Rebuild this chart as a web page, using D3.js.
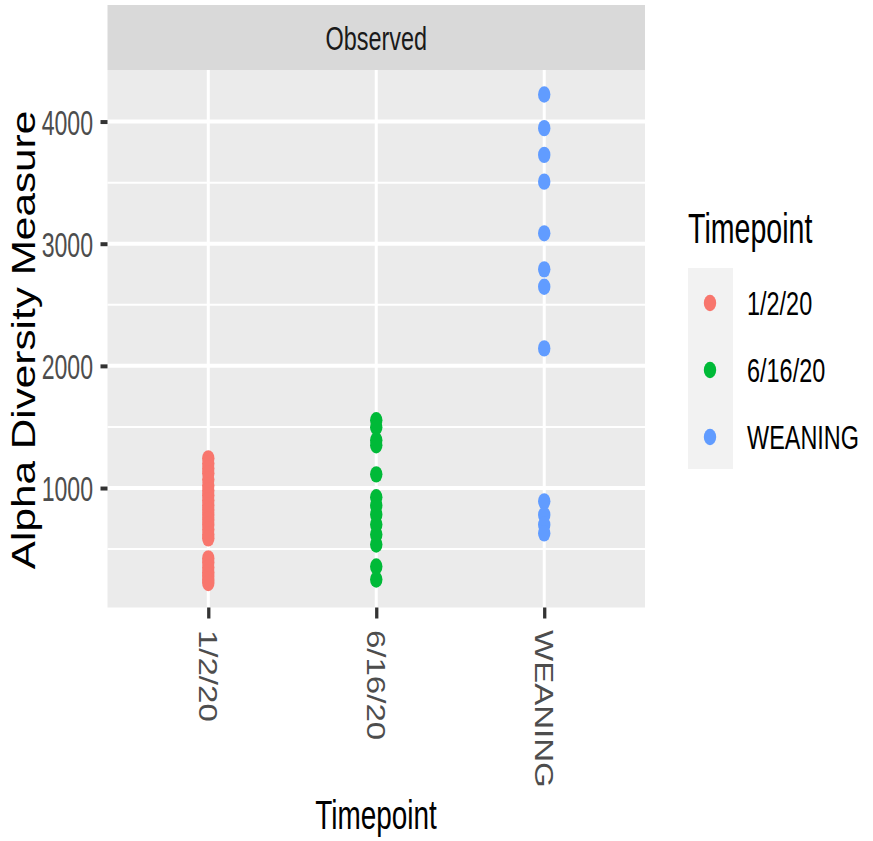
<!DOCTYPE html>
<html>
<head>
<meta charset="utf-8">
<script src="https://cdn.jsdelivr.net/npm/d3@7"></script>
<style>
  body { margin: 0; background: #fff; }
  text { font-family: "Liberation Sans", Arial, sans-serif; }
</style>
</head>
<body>
<svg id="chart" width="873" height="841"></svg>
<script>
// categories and colours
const categories = ["1/2/20", "6/16/20", "WEANING"];
const colors = ["#F8766D", "#00BA38", "#619CFF"];

// observed alpha diversity per timepoint
const obs_1_2_20 = [1243, 1200, 1160, 1120, 1070, 1020, 980, 940, 900, 860, 820, 780, 740, 700, 660, 620, 588,
  424, 390, 350, 310, 280, 250, 222];
const obs_6_16_20 = [1555, 1498, 1391, 1350, 1112, 924, 858, 784, 702, 620, 538, 358, 251];
const obs_weaning = [4222, 3946, 3727, 3508, 3085, 2790, 2648, 2143, 891, 780, 700, 629];

const yTicks = [1000, 2000, 3000, 4000];
const yMinor = [500, 1500, 2500, 3500];

const data = [
  ...obs_1_2_20.map(v => ({ cat: categories[0], value: v })),
  ...obs_6_16_20.map(v => ({ cat: categories[1], value: v })),
  ...obs_weaning.map(v => ({ cat: categories[2], value: v }))
];

const svg = d3.select("#chart");
const panel = { left: 107.5, right: 645, top: 70, bottom: 607.5 };

const x = d3.scalePoint().domain(categories).range([panel.left, panel.right]).padding(0.6);

// ggplot style 5% expansion
const ext = d3.extent(data, d => d.value);
const pad = (ext[1] - ext[0]) * 0.05;
const y = d3.scaleLinear().domain([ext[0] - pad, ext[1] + pad]).range([panel.bottom, panel.top]);

const color = d3.scaleOrdinal().domain(categories).range(colors);

// strip
svg.append("rect")
  .attr("x", panel.left).attr("y", 5)
  .attr("width", panel.right - panel.left).attr("height", panel.top - 5)
  .attr("fill", "#D9D9D9");
svg.append("text")
  .attr("transform", `translate(${(panel.left + panel.right) / 2},50) scale(0.70,1)`)
  .attr("text-anchor", "middle")
  .attr("font-size", 33.5)
  .attr("fill", "#1A1A1A")
  .text("Observed");

// panel background + grid
svg.append("rect")
  .attr("x", panel.left).attr("y", panel.top)
  .attr("width", panel.right - panel.left).attr("height", panel.bottom - panel.top)
  .attr("fill", "#EBEBEB");

const grid = svg.append("g");
grid.selectAll(".minor").data(yMinor).join("line")
  .attr("x1", panel.left).attr("x2", panel.right)
  .attr("y1", d => y(d)).attr("y2", d => y(d))
  .attr("stroke", "#fff").attr("stroke-width", 2);
grid.selectAll(".major").data(yTicks).join("line")
  .attr("x1", panel.left).attr("x2", panel.right)
  .attr("y1", d => y(d)).attr("y2", d => y(d))
  .attr("stroke", "#fff").attr("stroke-width", 4);
grid.selectAll(".vmajor").data(categories).join("line")
  .attr("x1", d => x(d)).attr("x2", d => x(d))
  .attr("y1", panel.top).attr("y2", panel.bottom)
  .attr("stroke", "#fff").attr("stroke-width", 3);

// points (plot is stretched vertically, so points are ellipses)
svg.append("g").selectAll("ellipse").data(data).join("ellipse")
  .attr("cx", d => x(d.cat))
  .attr("cy", d => y(d.value))
  .attr("rx", 6.2).attr("ry", 8.2)
  .attr("fill", d => color(d.cat));

// y axis
const yAxis = svg.append("g")
  .attr("transform", `translate(${panel.left},0)`)
  .call(d3.axisLeft(y).tickValues(yTicks).tickFormat(d3.format("d")).tickSize(7).tickSizeOuter(0));
yAxis.select(".domain").remove();
yAxis.selectAll(".tick line").attr("stroke", "#333333").attr("stroke-width", 4);
yAxis.selectAll(".tick text")
  .attr("x", -14.5 / 0.66).attr("dy", null).attr("y", 12.5)
  .attr("transform", "scale(0.66,1)")
  .attr("font-size", 35)
  .attr("font-family", "Liberation Sans, Arial, sans-serif")
  .attr("fill", "#4D4D4D");

// x axis
const xAxis = svg.append("g")
  .attr("transform", `translate(0,${panel.bottom})`)
  .call(d3.axisBottom(x).tickSize(11).tickSizeOuter(0));
xAxis.select(".domain").remove();
xAxis.selectAll(".tick line").attr("stroke", "#333333").attr("stroke-width", 3.3);
xAxis.selectAll(".tick text")
  .attr("x", 0).attr("y", 0).attr("dy", null)
  .attr("transform", "translate(-9.5,22.5) rotate(90) scale(1,0.8)")
  .attr("text-anchor", "start")
  .attr("font-size", 33)
  .attr("font-family", "Liberation Sans, Arial, sans-serif")
  .attr("fill", "#4D4D4D");

// axis titles
svg.append("text")
  .attr("transform", "translate(376,829) scale(0.69,1)")
  .attr("text-anchor", "middle")
  .attr("font-size", 40.5)
  .attr("fill", "#000")
  .text("Timepoint");
svg.append("text")
  .attr("transform", "translate(35,340) rotate(-90) scale(1,0.8)")
  .attr("text-anchor", "middle")
  .attr("font-size", 42.3)
  .attr("fill", "#000")
  .text("Alpha Diversity Measure");

// legend
const legend = svg.append("g");
legend.append("text")
  .attr("transform", "translate(688,243) scale(0.68,1)")
  .attr("font-size", 42)
  .attr("fill", "#000")
  .text("Timepoint");
legend.append("rect")
  .attr("x", 688).attr("y", 268).attr("width", 45).attr("height", 201)
  .attr("fill", "#F2F2F2");
const keyY = d3.scalePoint().domain(categories).range([303, 437]);
const keys = legend.selectAll(".key").data(categories).join("g")
  .attr("transform", d => `translate(0,${keyY(d)})`);
keys.append("ellipse")
  .attr("cx", 710).attr("cy", 0).attr("rx", 6.2).attr("ry", 8.2)
  .attr("fill", d => color(d));
keys.append("text")
  .attr("transform", "translate(747,12) scale(0.70,1)")
  .attr("font-size", 33.5)
  .attr("fill", "#000")
  .text(d => d);
</script>
</body>
</html>
